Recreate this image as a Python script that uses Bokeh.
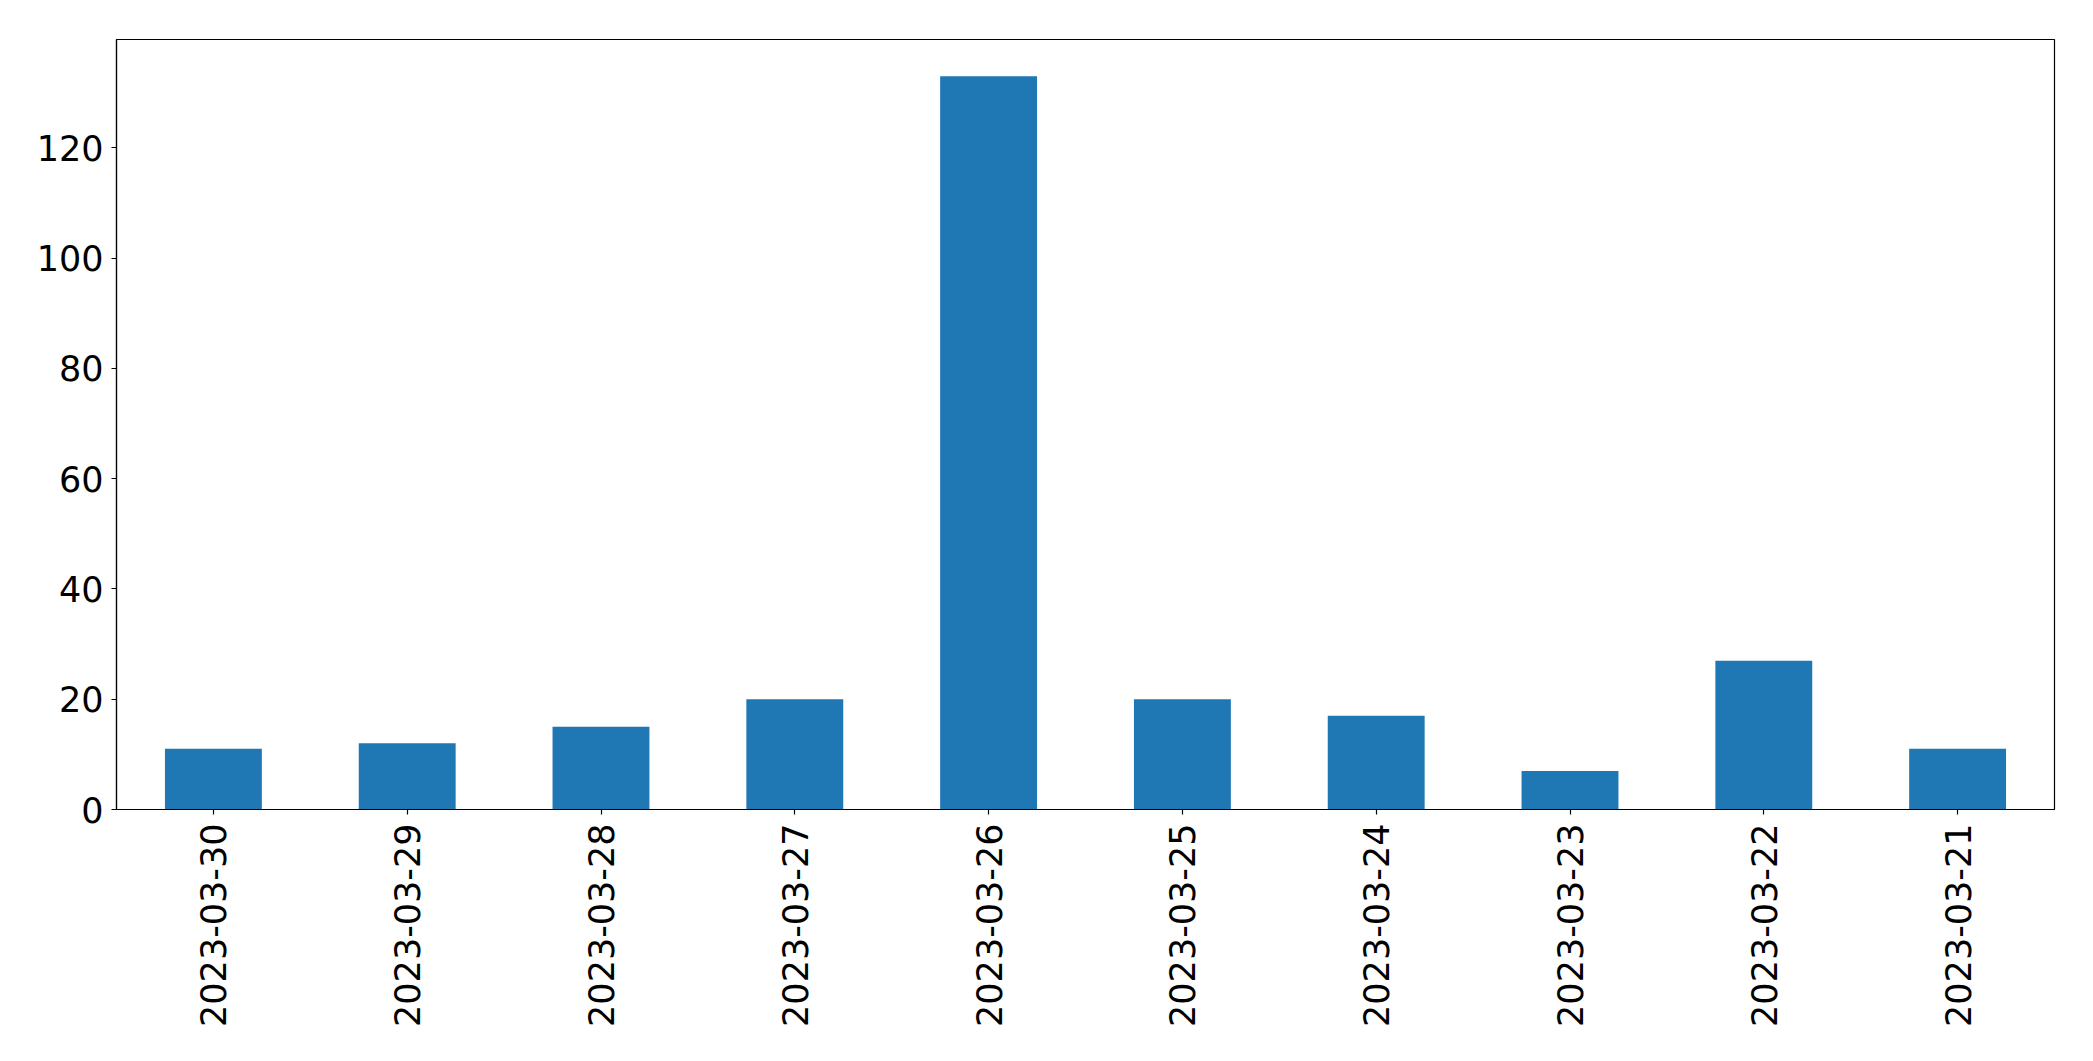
from bokeh.plotting import figure
from bokeh.models import FactorRange, Range1d, FixedTicker, ColumnDataSource
from bokeh.embed import file_html
from bokeh.resources import INLINE
import math

dates = ["2023-03-30", "2023-03-29", "2023-03-28", "2023-03-27", "2023-03-26",
         "2023-03-25", "2023-03-24", "2023-03-23", "2023-03-22", "2023-03-21"]
counts = [11, 12, 15, 20, 133, 20, 17, 7, 27, 11]
y_ticks = [0, 20, 40, 60, 80, 100, 120]

src = ColumnDataSource(dict(x=dates, top=counts))

p = figure(width=2077, height=1045, output_backend="svg", toolbar_location=None,
           x_range=FactorRange(*dates), y_range=Range1d(0, max(counts) * 1.05),
           min_border_left=116, min_border_top=39, min_border_right=23, min_border_bottom=236)

p.vbar(x="x", top="top", width=0.5, source=src, fill_color="#1f77b4", line_color=None)

p.xgrid.visible = False
p.ygrid.visible = False
p.outline_line_color = "black"
p.outline_line_width = 1.2
p.outline_line_alpha = 1

font = "DejaVu Sans"
for ax in (p.xaxis[0], p.yaxis[0]):
    ax.major_label_text_font = font
    ax.major_label_text_font_size = "35px"
    ax.major_label_text_color = "black"
    ax.axis_line_color = "black"
    ax.axis_line_width = 1.2
    ax.major_tick_line_color = "black"
    ax.major_tick_line_width = 1.2
    ax.major_tick_out = 5
    ax.major_tick_in = 0
    ax.minor_tick_line_color = None

p.yaxis.ticker = FixedTicker(ticks=y_ticks)
p.yaxis.major_label_standoff = 8
p.xaxis.major_label_orientation = math.pi / 2
p.xaxis.major_label_standoff = 9

open("out.html", "w").write(file_html(p, INLINE))
